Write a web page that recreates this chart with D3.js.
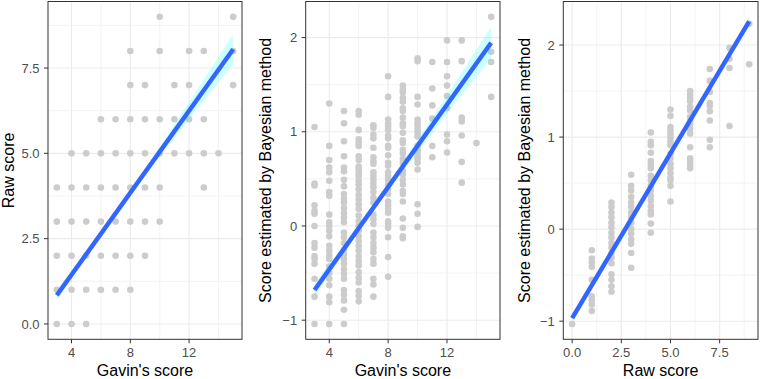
<!DOCTYPE html>
<html lang="en">
<head>
    <meta charset="UTF-8">
    <title>Gavin vs raw vs Bayesian scores</title>
    <script src="https://d3js.org/d3.v7.min.js"></script>
    <style>
        body {margin:0;background:#fff}
        text {font-family:"Liberation Sans", Arial, sans-serif}
    </style>
</head>
<body>
    <div id="chart"></div>
    <script>
        // panel 1: Gavin's score (x) vs raw score, one entry per column [x, ys]
        var gavinRaw = [
            [3, [0, 1, 2, 3, 4]],
            [4, [0, 1, 2, 3, 4, 5]],
            [5, [0, 1, 2, 3, 4, 5]],
            [6, [1, 2, 3, 4, 5, 6]],
            [7, [1, 2, 3, 4, 5, 6]],
            [8, [1, 2, 3, 4, 5, 6, 7, 8]],
            [9, [2, 3, 4, 5, 6, 7]],
            [10, [3, 4, 5, 6, 8, 9]],
            [11, [5, 6, 7]],
            [12, [5, 6, 7, 8]],
            [13, [4, 5, 6, 8]],
            [14, [5]],
            [15, [7, 8, 9]]
        ];
        // panel 2: Gavin's score vs Bayesian estimate
        var gavinBayes = [
            [3, [1.05, 0.45, 0.43, 0.22, 0.16, 0.13, 0.0, -0.18, -0.23, -0.32, -0.35, -0.40, -0.56, -0.75, -1.04]],
            [4, [1.30, 0.85, 0.70, 0.62, 0.57, 0.48, 0.36, 0.32, 0.12, 0.04, 0.0, -0.05, -0.11, -0.21, -0.26, -0.31, -0.35, -0.43, -0.50, -0.56, -0.63, -0.75, -0.81, -1.04]],
            [5, [1.22, 1.09, 0.90, 0.74, 0.62, 0.58, 0.49, 0.42, 0.34, 0.29, 0.25, 0.19, 0.14, 0.09, 0.04, -0.07, -0.12, -0.18, -0.25, -0.30, -0.35, -0.40, -0.46, -0.51, -0.56, -0.68, -0.73, -0.79, -0.89, -1.04]],
            [6, [1.22, 1.18, 1.02, 0.92, 0.88, 0.85, 0.74, 0.70, 0.63, 0.60, 0.56, 0.53, 0.48, 0.44, 0.39, 0.33, 0.28, 0.23, 0.18, 0.11, 0.05, 0.0, -0.05, -0.11, -0.16, -0.21, -0.26, -0.32, -0.37, -0.42, -0.49, -0.55, -0.60, -0.69, -0.74, -0.80]],
            [7, [1.07, 1.04, 0.97, 0.93, 0.83, 0.73, 0.69, 0.66, 0.57, 0.53, 0.49, 0.45, 0.41, 0.36, 0.30, 0.25, 0.12, 0.07, 0.02, -0.07, -0.12, -0.18, -0.23, -0.28, -0.35, -0.40, -0.56, -0.62, -0.75]],
            [8, [1.59, 1.37, 1.13, 1.09, 1.06, 1.02, 0.96, 0.93, 0.85, 0.83, 0.75, 0.67, 0.64, 0.57, 0.53, 0.49, 0.44, 0.39, 0.34, 0.26, 0.22, 0.18, 0.14, 0.05, 0.02, -0.02, -0.12, -0.33, -0.54]],
            [9, [1.49, 1.45, 1.42, 1.36, 1.32, 1.25, 1.22, 1.15, 1.09, 1.06, 0.99, 0.91, 0.88, 0.81, 0.77, 0.71, 0.67, 0.58, 0.55, 0.49, 0.44, 0.37, 0.34, 0.26, 0.08, -0.02, -0.11, -0.13]],
            [10, [1.78, 1.75, 1.37, 1.29, 1.13, 1.09, 1.06, 1.02, 0.99, 0.95, 0.85, 0.81, 0.78, 0.74, 0.71, 0.67, 0.60, 0.23, 0.13, -0.01]],
            [11, [1.74, 1.46, 1.28, 1.14, 0.85, 0.73]],
            [12, [1.97, 1.74, 1.59, 1.49, 1.38, 1.25, 0.97, 0.90, 0.78]],
            [13, [1.97, 1.75, 1.15, 1.11, 0.96, 0.68, 0.46]],
            [14, [0.88]],
            [15, [2.22, 1.85, 1.74, 1.37]]
        ];
        // panel 3: raw score vs Bayesian estimate
        var rawBayes = [
            [0, [-1.03]],
            [1, [-0.23, -0.32, -0.36, -0.41, -0.55, -0.73, -0.77, -0.82, -0.89]],
            [2, [0.29, 0.24, 0.18, 0.13, 0.07, 0.02, -0.04, -0.09, -0.15, -0.20, -0.26, -0.31, -0.37, -0.49, -0.55, -0.62, -0.68]],
            [3, [0.59, 0.47, 0.42, 0.35, 0.29, 0.24, 0.18, 0.13, 0.07, 0.0, -0.05, -0.11, -0.16, -0.26, -0.42]],
            [4, [1.05, 0.95, 0.91, 0.83, 0.74, 0.70, 0.66, 0.58, 0.53, 0.47, 0.42, 0.36, 0.31, 0.25, 0.20, 0.16, 0.06, -0.04]],
            [5, [1.30, 1.23, 1.11, 1.07, 1.03, 0.99, 0.95, 0.91, 0.82, 0.77, 0.71, 0.66, 0.61, 0.56, 0.53, 0.47, 0.30]],
            [6, [1.50, 1.46, 1.42, 1.39, 1.33, 1.29, 1.22, 1.18, 1.14, 1.09, 1.04, 0.89, 0.77, 0.73, 0.70, 0.66]],
            [7, [1.74, 1.61, 1.49, 1.37, 1.34, 1.28, 1.18, 0.97, 0.89]],
            [8, [1.97, 1.85, 1.75, 1.12]],
            [9, [2.23, 1.79]]
        ];

        // linear fits: [x, fitted, ci half width]
        var gavinRawFit = [[3, 0.84, 0.14], [6, 2.64, 0.08], [9, 4.44, 0.11], [12, 6.25, 0.25], [15, 8.05, 0.45]];
        var gavinBayesFit = [[3, -0.68, 0.07], [6, -0.02, 0.04], [9, 0.63, 0.05], [12, 1.29, 0.10], [15, 1.945, 0.17]];
        var rawBayesFit = [[0, -0.967, 0.03], [3, 0.107, 0.015], [6, 1.18, 0.02], [9, 2.256, 0.05]];

        var gavinTicks = [4, 8, 12];
        var rawTicks = [0, 2.5, 5, 7.5];
        var bayesTicks = [-1, 0, 1, 2];

        var minusFmt = d => d < 0 ? "\u2212" + (-d) : "" + d;
        var panels = [
            {pts: gavinRaw, fit: gavinRawFit, xt: gavinTicks, yt: rawTicks, xf: d3.format("d"), yf: d3.format(".1f"),
             xlab: "Gavin's score", ylab: "Raw score", left: 48, right: 242, ylabX: 14},
            {pts: gavinBayes, fit: gavinBayesFit, xt: gavinTicks, yt: bayesTicks, xf: d3.format("d"), yf: minusFmt,
             xlab: "Gavin's score", ylab: "Score estimated by Bayesian method", left: 305.7, right: 500, ylabX: 270.5},
            {pts: rawBayes, fit: rawBayesFit, xt: rawTicks, yt: bayesTicks, xf: d3.format(".1f"), yf: minusFmt,
             xlab: "Raw score", ylab: "Score estimated by Bayesian method", left: 563.3, right: 758, ylabX: 529.5}
        ];
        var plotTop = 1.5, plotBottom = 339.3;

        var svg = d3.select("#chart").append("svg")
            .attr("width", 760)
            .attr("height", 379);

        function minors(ticks, dom) {
            var step = ticks[1] - ticks[0];
            var out = [];
            for (var i = -1; i < ticks.length; i++) {
                var m = ticks[0] + step * (i + 0.5);
                if (m > dom[0] && m < dom[1]) out.push(m);
            }
            return out;
        }

        function expand(ext) {
            var pad = (ext[1] - ext[0]) * 0.05;
            return [ext[0] - pad, ext[1] + pad];
        }

        panels.forEach(function(p) {
            var flat = [];
            p.pts.forEach(function(c) {
                c[1].forEach(function(v) { flat.push({x: c[0], y: v}); });
            });
            var xExt = d3.extent(flat, d => d.x);
            var yVals = flat.map(d => d.y)
                .concat(p.fit.map(f => f[1] + f[2]))
                .concat(p.fit.map(f => f[1] - f[2]));
            var x = d3.scaleLinear().domain(expand(xExt)).range([p.left, p.right]);
            var y = d3.scaleLinear().domain(expand(d3.extent(yVals))).range([plotBottom, plotTop]);

            var g = svg.append("g");

            // grid
            minors(p.xt, x.domain()).forEach(function(v) {
                g.append("line").attr("x1", x(v)).attr("x2", x(v)).attr("y1", plotTop).attr("y2", plotBottom)
                    .attr("stroke", "#ebebeb").attr("stroke-width", 0.6);
            });
            minors(p.yt, y.domain()).forEach(function(v) {
                g.append("line").attr("x1", p.left).attr("x2", p.right).attr("y1", y(v)).attr("y2", y(v))
                    .attr("stroke", "#ebebeb").attr("stroke-width", 0.6);
            });
            p.xt.forEach(function(v) {
                g.append("line").attr("x1", x(v)).attr("x2", x(v)).attr("y1", plotTop).attr("y2", plotBottom)
                    .attr("stroke", "#ebebeb").attr("stroke-width", 1.1);
            });
            p.yt.forEach(function(v) {
                g.append("line").attr("x1", p.left).attr("x2", p.right).attr("y1", y(v)).attr("y2", y(v))
                    .attr("stroke", "#ebebeb").attr("stroke-width", 1.1);
            });

            // points
            g.selectAll("circle")
                .data(flat)
                .enter()
                .append("circle")
                .attr("cx", d => x(d.x))
                .attr("cy", d => y(d.y))
                .attr("r", 3.3)
                .attr("fill", "#cccccc");

            // confidence band + fit
            var band = d3.area()
                .x(f => x(f[0]))
                .y0(f => y(f[1] - f[2]))
                .y1(f => y(f[1] + f[2]))
                .curve(d3.curveMonotoneX);
            g.append("path").datum(p.fit).attr("d", band)
                .attr("fill", "#00ffff").attr("fill-opacity", 0.2);
            var first = p.fit[0], last = p.fit[p.fit.length - 1];
            g.append("line")
                .attr("x1", x(first[0])).attr("y1", y(first[1]))
                .attr("x2", x(last[0])).attr("y2", y(last[1]))
                .attr("stroke", "#3366ff").attr("stroke-width", 4.5);

            // border
            g.append("rect")
                .attr("x", p.left).attr("y", plotTop)
                .attr("width", p.right - p.left).attr("height", plotBottom - plotTop)
                .attr("fill", "none").attr("stroke", "#333333").attr("stroke-width", 1);

            // axes
            p.xt.forEach(function(v) {
                g.append("line").attr("x1", x(v)).attr("x2", x(v)).attr("y1", plotBottom).attr("y2", plotBottom + 4)
                    .attr("stroke", "#333333").attr("stroke-width", 1);
                g.append("text").attr("x", x(v)).attr("y", 356.5)
                    .attr("text-anchor", "middle").attr("font-size", "13px").attr("fill", "#4d4d4d")
                    .text(p.xf(v));
            });
            p.yt.forEach(function(v) {
                g.append("line").attr("x1", p.left - 4).attr("x2", p.left).attr("y1", y(v)).attr("y2", y(v))
                    .attr("stroke", "#333333").attr("stroke-width", 1);
                g.append("text").attr("x", p.left - 8.5).attr("y", y(v)).attr("dy", "0.36em")
                    .attr("text-anchor", "end").attr("font-size", "13px").attr("fill", "#4d4d4d")
                    .text(p.yf(v));
            });

            g.append("text")
                .attr("x", (p.left + p.right) / 2)
                .attr("y", 376)
                .attr("text-anchor", "middle")
                .attr("font-size", "16px")
                .text(p.xlab);

            g.append("text")
                .attr("transform", "translate(" + p.ylabX + "," + (plotTop + plotBottom) / 2 + ") rotate(-90)")
                .attr("text-anchor", "middle")
                .attr("font-size", "16px")
                .text(p.ylab);
        });
    </script>
</body>
</html>
